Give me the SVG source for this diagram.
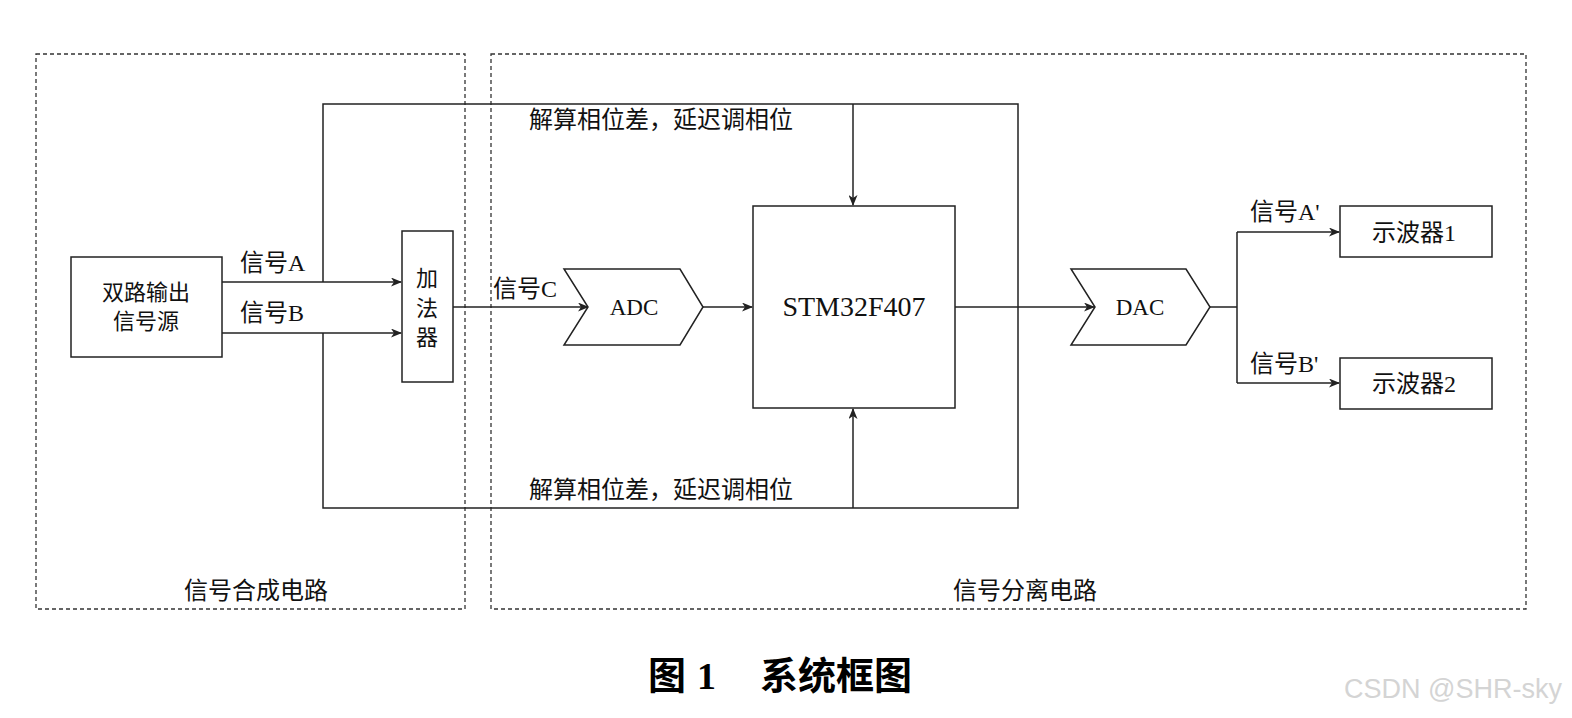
<svg xmlns="http://www.w3.org/2000/svg" width="1572" height="718" viewBox="0 0 1572 718">
<style>
.bg{fill:#fff}
.frame{fill:none;stroke:#333;stroke-width:1.3;stroke-dasharray:4 3}
.box{fill:#fff;stroke:#222;stroke-width:1.5}
.ln{fill:none;stroke:#222;stroke-width:1.5}
.t{font-family:"Liberation Serif","Noto Sans CJK SC",serif;font-size:24px;fill:#111}
.cn{font-family:"Noto Sans CJK SC",sans-serif;font-size:24px;fill:#111}
.cn2{font-family:"Noto Sans CJK SC",sans-serif;font-size:22px;fill:#111}
.lat{font-family:"Liberation Serif",serif;fill:#111}
.cap{font-family:"Liberation Serif","Noto Sans CJK SC",serif;font-size:38px;font-weight:bold;fill:#000}
.wm{font-family:"Liberation Sans",Arial,sans-serif;font-size:27px;fill:#d4d4d4}
</style>
<defs>
<marker id="arr" markerWidth="11" markerHeight="9" refX="10" refY="4.5" orient="auto" markerUnits="userSpaceOnUse">
<path d="M0,0 L11,4.5 L0,9 L3,4.5 z" fill="#222"/>
</marker>
</defs>
<rect class="bg" x="0" y="0" width="1572" height="718"/>
<g id="frames">
<rect class="frame" x="36" y="54" width="429" height="555"/>
<rect class="frame" x="491" y="54" width="1035" height="555"/>
<text class="cn" x="256" y="599" text-anchor="middle">信号合成电路</text>
<text class="cn" x="1025" y="599" text-anchor="middle">信号分离电路</text>
</g>
<g id="connectors">
<path class="ln" d="M222,282 H401" marker-end="url(#arr)"/>
<path class="ln" d="M222,333 H401" marker-end="url(#arr)"/>
<path class="ln" d="M323,282 V104 H1018 V508 H323 V333"/>
<path class="ln" d="M853,104 V205" marker-end="url(#arr)"/>
<path class="ln" d="M853,508 V409" marker-end="url(#arr)"/>
<path class="ln" d="M453,307 H588" marker-end="url(#arr)"/>
<path class="ln" d="M703,307 H752" marker-end="url(#arr)"/>
<path class="ln" d="M955,307 H1094" marker-end="url(#arr)"/>
<path class="ln" d="M1210,307 H1237 M1237,232 V383"/>
<path class="ln" d="M1237,232 H1339" marker-end="url(#arr)"/>
<path class="ln" d="M1237,383 H1339" marker-end="url(#arr)"/>
<text class="t" x="240" y="271">信号<tspan class="lat">A</tspan></text>
<text class="t" x="240" y="321">信号<tspan class="lat">B</tspan></text>
<text class="t" x="493" y="297">信号<tspan class="lat">C</tspan></text>
<text class="cn" x="529" y="128">解算相位差，延迟调相位</text>
<text class="cn" x="529" y="498">解算相位差，延迟调相位</text>
<text class="t" x="1250" y="220">信号<tspan class="lat">A'</tspan></text>
<text class="t" x="1250" y="372">信号<tspan class="lat">B'</tspan></text>
</g>
<g id="source">
<rect class="box" x="71" y="257" width="151" height="100"/>
<text class="cn2" x="146" y="300" text-anchor="middle">双路输出</text>
<text class="cn2" x="146" y="329" text-anchor="middle">信号源</text>
</g>
<g id="adder">
<rect class="box" x="402" y="231" width="51" height="151"/>
<text class="cn2" x="427" y="286" text-anchor="middle">加</text>
<text class="cn2" x="427" y="316" text-anchor="middle">法</text>
<text class="cn2" x="427" y="345" text-anchor="middle">器</text>
</g>
<g id="adc">
<path class="box" d="M564,269 H680 L703,307 L680,345 H564 L588,307 Z"/>
<text class="lat" x="634" y="315" font-size="23" text-anchor="middle">ADC</text>
</g>
<g id="mcu">
<rect class="box" x="753" y="206" width="202" height="202"/>
<text class="lat" x="854" y="316" font-size="28" text-anchor="middle">STM32F407</text>
</g>
<g id="dac">
<path class="box" d="M1071,269 H1186 L1210,307 L1186,345 H1071 L1095,307 Z"/>
<text class="lat" x="1140" y="315" font-size="23" text-anchor="middle">DAC</text>
</g>
<g id="scope1">
<rect class="box" x="1340" y="206" width="152" height="51"/>
<text class="t" x="1414" y="241" text-anchor="middle">示波器<tspan class="lat">1</tspan></text>
</g>
<g id="scope2">
<rect class="box" x="1340" y="358" width="152" height="51"/>
<text class="t" x="1414" y="392" text-anchor="middle">示波器<tspan class="lat">2</tspan></text>
</g>
<g id="caption">
<text class="cap" x="648" y="689">图</text>
<text class="cap" x="697" y="689">1</text>
<text class="cap" x="760" y="689">系统框图</text>
</g>
<text class="wm" x="1562" y="698" text-anchor="end">CSDN @SHR-sky</text>
</svg>
